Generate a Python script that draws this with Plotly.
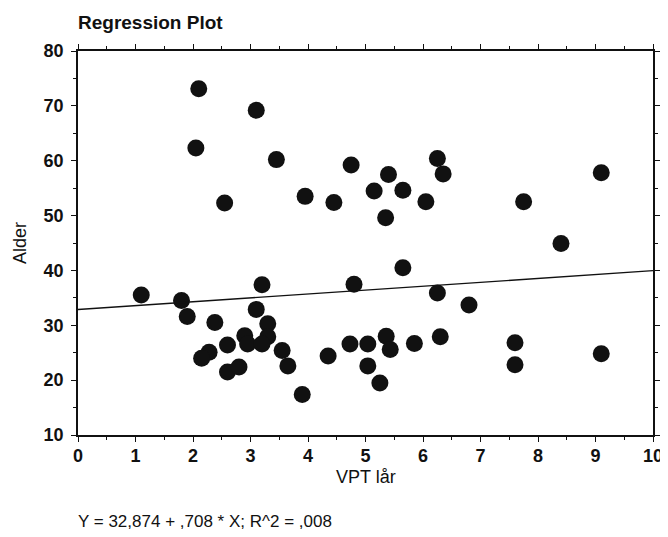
import plotly.graph_objects as go

# Data
vpt_lar = [2.1, 3.1, 2.05, 3.45, 2.55, 3.95, 4.45, 4.75, 5.4, 5.15, 5.65, 5.35, 6.05, 6.25, 6.35, 7.75, 9.1, 8.4,
           1.1, 1.8, 1.9, 3.2, 4.8, 5.65, 6.25, 6.8, 3.1,
           2.38, 3.3, 2.9, 3.3, 2.95, 3.2, 2.6, 2.28, 2.15, 3.55, 3.65, 2.6, 2.8, 3.9, 4.35, 4.73, 5.04, 5.36,
           5.43, 5.04, 5.25, 5.85, 6.3, 7.6, 7.6, 9.1]
alder = [73.1, 69.2, 62.3, 60.2, 52.3, 53.5, 52.4, 59.2, 57.5, 54.5, 54.6, 49.6, 52.5, 60.4, 57.6, 52.5, 57.8, 44.9,
         35.5, 34.5, 31.6, 37.4, 37.5, 40.5, 35.9, 33.7, 32.9,
         30.5, 30.3, 28.1, 27.9, 26.6, 26.6, 26.4, 25.1, 24.0, 25.4, 22.6, 21.5, 22.4, 17.4, 24.4, 26.6, 26.6, 28.0,
         25.6, 22.6, 19.5, 26.7, 27.9, 26.8, 22.8, 24.8]

intercept = 32.874
slope = 0.708
x_range = [0, 10]
y_range = [10, 80]
x_ticks = [0, 1, 2, 3, 4, 5, 6, 7, 8, 9, 10]
y_ticks = [10, 20, 30, 40, 50, 60, 70, 80]

title_text = "Regression Plot"
x_title = "VPT lår"
y_title = "Alder"
equation_text = "Y = 32,874 + ,708 * X; R^2 = ,008"

FONT = "Liberation Sans, Arial, sans-serif"
INK = "#111111"

fig = go.Figure()
fig.add_trace(go.Scatter(
    x=vpt_lar, y=alder, mode="markers",
    marker=dict(size=17, color=INK, line=dict(width=0)),
    showlegend=False, hoverinfo="x+y"))

fig.add_trace(go.Scatter(
    x=x_range, y=[intercept + slope * v for v in x_range], mode="lines",
    line=dict(color=INK, width=1.3), showlegend=False, hoverinfo="skip"))

axis_common = dict(
    showgrid=False, zeroline=False, showline=True, linecolor=INK, linewidth=1.5,
    mirror="allticks", ticks="outside", ticklen=5, tickwidth=1.3, tickcolor=INK,
    tickfont=dict(family=FONT, size=18, color=INK, weight="bold"),
    automargin=False,
)

# page body has an 8px margin, so the figure is sized to fit inside the 668x537 window
fig.update_layout(
    width=660, height=529,
    margin=dict(l=70, r=15, t=43, b=102),
    paper_bgcolor="white", plot_bgcolor="white",
    font=dict(family=FONT, color=INK),
    xaxis=dict(range=x_range, tickvals=x_ticks, ticklabelstandoff=-1, **axis_common,
               minor=dict(dtick=0.5, ticklen=3, tickwidth=1, tickcolor=INK, ticks="outside")),
    yaxis=dict(range=y_range, tickvals=y_ticks, ticklabelstandoff=4, **axis_common,
               minor=dict(dtick=5, ticklen=3, tickwidth=1, tickcolor=INK, ticks="outside")),
    annotations=[
        dict(text="<b>" + title_text + "</b>", xref="paper", yref="paper", x=0, y=1,
             xanchor="left", yanchor="middle", yshift=29, xshift=-2, showarrow=False,
             font=dict(family=FONT, size=19, color=INK)),
        dict(text=x_title, xref="paper", yref="paper", x=0.5, y=0,
             xanchor="center", yanchor="middle", yshift=-42, showarrow=False,
             font=dict(family=FONT, size=18, color=INK)),
        dict(text=y_title, xref="paper", yref="paper", x=0, y=0.5, textangle=-90,
             xanchor="center", yanchor="middle", xshift=-58, showarrow=False,
             font=dict(family=FONT, size=18, color=INK)),
        dict(text=equation_text, xref="paper", yref="paper", x=0, y=0,
             xanchor="left", yanchor="middle", yshift=-86, xshift=-2, showarrow=False,
             font=dict(family=FONT, size=17, color=INK)),
    ],
)

fig.write_html("out.html")
